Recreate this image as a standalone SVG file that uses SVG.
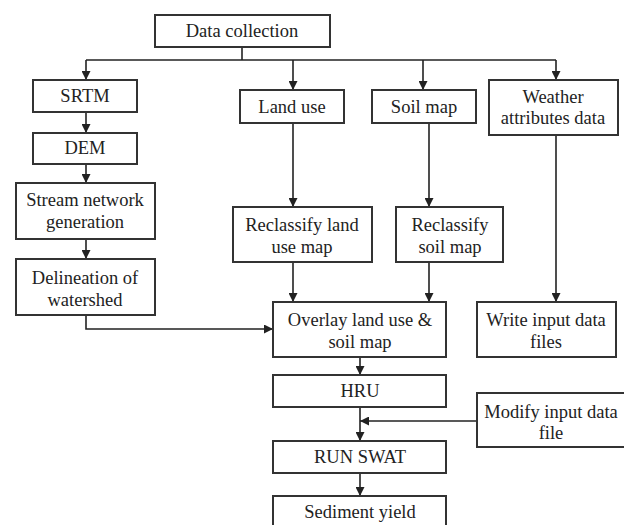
<svg xmlns="http://www.w3.org/2000/svg" width="624" height="525" viewBox="0 0 624 525">
<style>
.box{fill:#fff;stroke:#333;stroke-width:2}
.t{font-family:"Liberation Serif","Times New Roman",serif;font-size:18.5px;fill:#222;text-anchor:middle}
.c{fill:none;stroke:#222;stroke-width:1.6}
</style>
<defs>
<marker id="ah" markerWidth="9" markerHeight="9" viewBox="0 0 10 10" refX="10" refY="5" orient="auto" markerUnits="userSpaceOnUse">
<path d="M0,0 L10,5 L0,10 z" fill="#222"/>
</marker>
</defs>
<rect width="624" height="525" fill="#fff"/>
<g id="connectors">
<path class="c" d="M242,47 V60"/>
<path class="c" d="M86,60 H556"/>
<path class="c" d="M86,60 V80" marker-end="url(#ah)"/>
<path class="c" d="M293,60 V90" marker-end="url(#ah)"/>
<path class="c" d="M423,60 V90" marker-end="url(#ah)"/>
<path class="c" d="M556,60 V80" marker-end="url(#ah)"/>
<path class="c" d="M86,112 V133" marker-end="url(#ah)"/>
<path class="c" d="M86,164 V183" marker-end="url(#ah)"/>
<path class="c" d="M86,239 V259" marker-end="url(#ah)"/>
<path class="c" d="M86,315 V329 H273" marker-end="url(#ah)"/>
<path class="c" d="M293,123 V207" marker-end="url(#ah)"/>
<path class="c" d="M429,123 V207" marker-end="url(#ah)"/>
<path class="c" d="M556,135 V302" marker-end="url(#ah)"/>
<path class="c" d="M293,262 V302" marker-end="url(#ah)"/>
<path class="c" d="M429,262 V302" marker-end="url(#ah)"/>
<path class="c" d="M360,357 V375" marker-end="url(#ah)"/>
<path class="c" d="M360,407 V441" marker-end="url(#ah)"/>
<path class="c" d="M477,421 H360" marker-end="url(#ah)"/>
<path class="c" d="M360,473 V496" marker-end="url(#ah)"/>
</g>
<g id="data-collection"><rect class="box" x="155" y="15" width="175" height="32"/><text class="t" x="242" y="37">Data collection</text></g>
<g id="srtm"><rect class="box" x="33" y="80" width="104" height="32"/><text class="t" x="85" y="102">SRTM</text></g>
<g id="dem"><rect class="box" x="33" y="133" width="104" height="31"/><text class="t" x="85" y="154">DEM</text></g>
<g id="stream"><rect class="box" x="16" y="183" width="139" height="56"/><text class="t" x="85" y="206">Stream network</text><text class="t" x="85" y="228">generation</text></g>
<g id="delineation"><rect class="box" x="16" y="259" width="139" height="56"/><text class="t" x="85" y="284">Delineation of</text><text class="t" x="85" y="306">watershed</text></g>
<g id="land-use"><rect class="box" x="240" y="90" width="104" height="33"/><text class="t" x="292" y="113">Land use</text></g>
<g id="soil-map"><rect class="box" x="372" y="90" width="104" height="33"/><text class="t" x="424" y="113">Soil map</text></g>
<g id="weather"><rect class="box" x="489" y="80" width="129" height="55"/><text class="t" x="553" y="103">Weather</text><text class="t" x="553" y="124">attributes data</text></g>
<g id="reclass-land"><rect class="box" x="233" y="207" width="139" height="55"/><text class="t" x="302" y="231">Reclassify land</text><text class="t" x="302" y="253">use map</text></g>
<g id="reclass-soil"><rect class="box" x="396" y="207" width="107" height="55"/><text class="t" x="450" y="231">Reclassify</text><text class="t" x="450" y="253">soil map</text></g>
<g id="overlay"><rect class="box" x="273" y="302" width="173" height="55"/><text class="t" x="360" y="326">Overlay land use &amp;</text><text class="t" x="360" y="348">soil map</text></g>
<g id="write-input"><rect class="box" x="477" y="302" width="139" height="55"/><text class="t" x="546" y="326">Write input data</text><text class="t" x="546" y="348">files</text></g>
<g id="hru"><rect class="box" x="273" y="375" width="173" height="32"/><text class="t" x="360" y="397">HRU</text></g>
<g id="modify"><rect class="box" x="477" y="393" width="148" height="54"/><text class="t" x="551" y="418">Modify input data</text><text class="t" x="551" y="439">file</text></g>
<g id="run-swat"><rect class="box" x="273" y="441" width="173" height="32"/><text class="t" x="360" y="463">RUN SWAT</text></g>
<g id="sediment"><rect class="box" x="273" y="496" width="173" height="34"/><text class="t" x="360" y="518">Sediment yield</text></g>
</svg>
